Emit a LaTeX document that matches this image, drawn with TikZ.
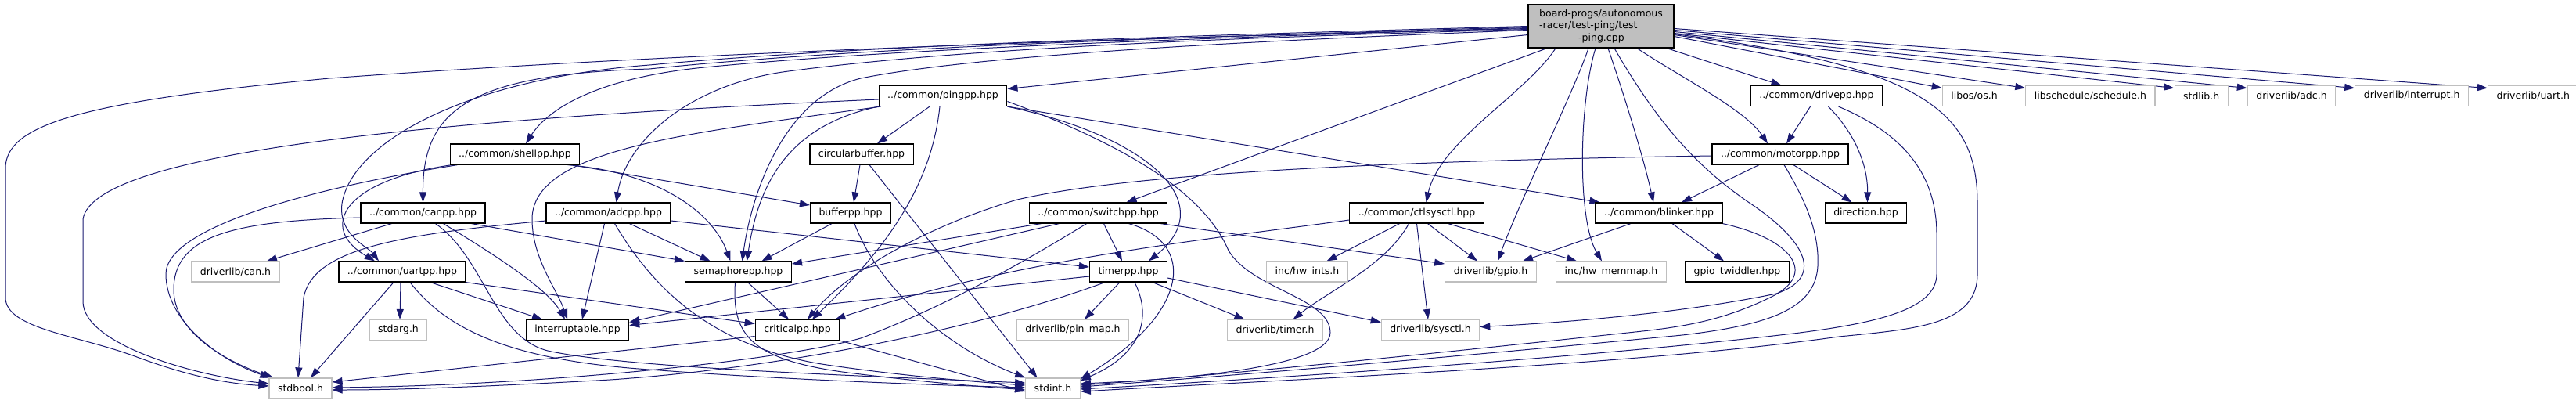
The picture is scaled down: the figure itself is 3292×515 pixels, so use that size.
\documentclass[tikz,border=0pt]{standalone}
\usepackage{fontspec}
\setmainfont{DejaVu Sans}
\usetikzlibrary{arrows.meta,positioning}
\definecolor{edgeblue}{HTML}{191970}
\definecolor{grey75}{HTML}{BFBFBF}
\pgfdeclarelayer{bg}
\pgfsetlayers{bg,main}
\tikzset{
    hdr/.style = {draw=black,line width=1.2pt,fill=white,inner xsep=11pt,inner ysep=2pt,minimum height=26pt,font=\fontsize{12.5}{15.5}\selectfont},
    sys/.style = {hdr,draw=grey75},
    srcfile/.style = {hdr,fill=grey75,align=left,minimum width=186pt,minimum height=55pt},
    dep/.style = {-{Triangle[length=13pt,width=9pt]},draw=edgeblue,line width=1pt},
}

\begin{document}
\begin{tikzpicture}[x=1pt,y=-1pt]
\useasboundingbox (0,0) rectangle (3292,515);

\node[srcfile] (root) at (2046,33.5) {board-progs/autonomous\\-racer/test-ping/test\\\hspace*{50pt}-ping.cpp};

\node[hdr] (pingpp) at (1205,122.5) {../common/pingpp.hpp};
\node[hdr] (drivepp) at (2321.5,122.5) {../common/drivepp.hpp};
\node[sys] (libos) at (2523,122.5) {libos/os.h};
\node[sys,right=24pt of libos] (libsched) {libschedule/schedule.h};
\node[sys,right=24pt of libsched] (stdlibh) {stdlib.h};
\node[sys,right=24pt of stdlibh] (adch) {driverlib/adc.h};
\node[sys,right=24pt of adch] (intrh) {driverlib/interrupt.h};
\node[sys,right=24pt of intrh] (uarth) {driverlib/uart.h};

\node[hdr] (shellpp) at (658,197) {../common/shellpp.hpp};
\node[hdr] (circbuf) at (1101,197) {circularbuffer.hpp};
\node[hdr] (motorpp) at (2275,197) {../common/motorpp.hpp};

\node[hdr] (canpp) at (540.5,272) {../common/canpp.hpp};
\node[hdr] (adcpp) at (777.5,272) {../common/adcpp.hpp};
\node[hdr] (bufferpp) at (1087,272) {bufferpp.hpp};
\node[hdr] (switchpp) at (1403.5,272) {../common/switchpp.hpp};
\node[hdr] (ctlsysctl) at (1810.5,272) {../common/ctlsysctl.hpp};
\node[hdr] (blinker) at (2120,272) {../common/blinker.hpp};
\node[hdr] (direction) at (2384.5,272) {direction.hpp};

\node[sys] (canh) at (301,347) {driverlib/can.h};
\node[hdr] (uartpp) at (514,347) {../common/uartpp.hpp};
\node[hdr] (semaphorepp) at (943.5,347) {semaphorepp.hpp};
\node[hdr] (timerpp) at (1442,347) {timerpp.hpp};
\node[sys] (hwints) at (1670.5,347) {inc/hw\_ints.h};
\node[sys] (gpioh) at (1905,347) {driverlib/gpio.h};
\node[sys] (hwmemmap) at (2059,347) {inc/hw\_memmap.h};
\node[hdr] (gpiotw) at (2220,347) {gpio\_twiddler.hpp};

\node[sys] (stdargh) at (509,421.5) {stdarg.h};
\node[hdr] (interruptable) at (738,421.5) {interruptable.hpp};
\node[hdr] (criticalpp) at (1019,421.5) {criticalpp.hpp};
\node[sys] (pinmap) at (1371,421.5) {driverlib/pin\_map.h};
\node[sys] (timerh) at (1629.5,421.5) {driverlib/timer.h};
\node[sys] (sysctlh) at (1828,421.5) {driverlib/sysctl.h};

\node[sys] (stdboolh) at (384,496) {stdbool.h};
\node[sys] (stdinth) at (1345.5,496) {stdint.h};

\begin{pgfonlayer}{bg}
% test-ping.cpp
\draw[dep] ([yshift=-11pt]root.west) -- ([yshift=9pt]pingpp.east);
\draw[dep] ([yshift=-3pt]root.west) .. controls (1500,47) and (900,65) .. (421,100) .. controls (100,130) and (7,160) .. (7,215) -- (7,380) .. controls (7,420) and (100,428) .. (175,456) .. controls (240,480) and (290,490) .. ([yshift=3pt]stdboolh.west);
\draw[dep] ([yshift=-2pt]root.west) .. controls (1500,50) and (1150,62) .. (900,86) .. controls (760,100) and (700,140) .. ([xshift=14pt]shellpp.north);
\draw[dep] ([yshift=-1pt]root.west) .. controls (1500,48) and (1100,60) .. (830,88) .. controls (600,95) and (540,140) .. (canpp.north);
\draw[dep] (root.west) .. controls (1500,46) and (1100,58) .. (830,83) .. controls (600,100) and (450,180) .. (437,260) .. controls (432,300) and (470,315) .. ([xshift=-30pt]uartpp.north);
\draw[dep] ([yshift=-4pt]root.west) .. controls (1500,50) and (1200,65) .. (1000,92) .. controls (880,110) and (800,180) .. ([xshift=10pt]adcpp.north);
\draw[dep] ([yshift=-5pt]root.west) .. controls (1600,52) and (1250,70) .. (1100,100) .. controls (1000,125) and (960,250) .. ([xshift=5pt]semaphorepp.north);
\draw[dep] ([xshift=-69pt]root.south) -- ([xshift=36pt]switchpp.north);
\draw[dep] ([xshift=-58pt]root.south) .. controls (1950,120) and (1840,180) .. ([xshift=12pt]ctlsysctl.north);
\draw[dep] ([xshift=-16pt]root.south) .. controls (2010,120) and (1945,250) .. ([xshift=9pt]gpioh.north);
\draw[dep] ([xshift=-7pt]root.south) .. controls (2018,130) and (2015,280) .. ([xshift=-12pt]hwmemmap.north);
\draw[dep] ([xshift=9pt]root.south) .. controls (2075,120) and (2100,200) .. ([xshift=-7pt]blinker.north);
\draw[dep] ([xshift=46pt]root.south) .. controls (2150,100) and (2230,140) .. ([xshift=-16pt]motorpp.north);
\draw[dep] ([xshift=84pt]root.south) -- ([xshift=-45pt]drivepp.north);
\draw[dep] ([xshift=17pt]root.south) .. controls (2120,160) and (2170,215) .. (2240,262) .. controls (2310,310) and (2330,355) .. (2270,375) .. controls (2150,400) and (2000,412) .. ([yshift=4pt]sysctlh.east);
\draw[dep] ([yshift=-10pt]root.east) .. controls (2470,85) and (2527,150) .. (2527,260) -- (2527,350) .. controls (2527,415) and (2450,420) .. (2350,430) .. controls (2100,465) and (1700,482) .. ([yshift=-4pt]stdinth.east);
\draw[dep] ([yshift=-13pt]root.east) -- ([yshift=10pt]libos.west);
\draw[dep] ([yshift=-11pt]root.east) -- ([yshift=10pt]libsched.west);
\draw[dep] ([yshift=-9pt]root.east) -- ([yshift=10pt]stdlibh.west);
\draw[dep] ([yshift=-7pt]root.east) -- ([yshift=10pt]adch.west);
\draw[dep] ([yshift=-5pt]root.east) -- ([yshift=10pt]intrh.west);
\draw[dep] ([yshift=-3pt]root.east) -- ([yshift=10pt]uarth.west);
% pingpp
\draw[dep] ([yshift=-4.5pt]pingpp.west) .. controls (600,150) and (120,190) .. (106,280) -- (106,385) .. controls (106,440) and (250,480) .. ([yshift=6pt]stdboolh.west);
\draw[dep] ([xshift=3pt]pingpp.south west) .. controls (880,170) and (680,190) .. (680,280) .. controls (680,330) and (712,370) .. ([xshift=-13pt]interruptable.north);
\draw[dep] ([xshift=-17pt]pingpp.south) -- ([xshift=20pt]circbuf.north);
\draw[dep] (pingpp.south west) .. controls (1010,160) and (970,230) .. ([xshift=11pt]semaphorepp.north);
\draw[dep] ([xshift=-4pt]pingpp.south) .. controls (1190,240) and (1130,320) .. ([xshift=19pt]criticalpp.north);
\draw[dep] ([yshift=-7pt]pingpp.east) .. controls (1450,190) and (1540,250) .. (1570,320) .. controls (1600,370) and (1700,380) .. (1700,425) .. controls (1700,470) and (1500,485) .. ([yshift=6pt]stdinth.east);
\draw[dep] (pingpp.south east) .. controls (1470,175) and (1560,260) .. ([xshift=26pt]timerpp.north);
\draw[dep] (pingpp.south east) -- ([xshift=6pt]blinker.north west);
% shellpp, circularbuffer, bufferpp
\draw[dep] ([xshift=10pt]shellpp.south west) .. controls (400,240) and (212,290) .. (212,350) .. controls (212,410) and (280,460) .. ([xshift=2pt]stdboolh.north west);
\draw[dep] ([xshift=3pt]shellpp.south west) .. controls (440,230) and (405,290) .. ([xshift=-35pt]uartpp.north);
\draw[dep] ([xshift=67pt]shellpp.south) .. controls (840,220) and (910,270) .. ([xshift=-10pt]semaphorepp.north);
\draw[dep] ([xshift=72pt]shellpp.south) -- ([yshift=10pt]bufferpp.west);
\draw[dep] ([xshift=-2pt]circbuf.south) -- ([xshift=4pt]bufferpp.north);
\draw[dep] ([xshift=10pt]circbuf.south) -- ([xshift=-20pt]stdinth.north);
\draw[dep] ([xshift=-24pt]bufferpp.south) -- ([xshift=30pt]semaphorepp.north);
\draw[dep] ([xshift=5pt]bufferpp.south) .. controls (1120,360) and (1200,440) .. (stdinth.north west);
% canpp
\draw[dep] ([yshift=-6pt]canpp.west) .. controls (300,282) and (222,300) .. (222,370) .. controls (222,425) and (290,462) .. ([xshift=6pt]stdboolh.north west);
\draw[dep] ([xshift=-40pt]canpp.south) -- ([xshift=40pt]canh.north);
\draw[dep] ([xshift=16pt]canpp.south) .. controls (620,330) and (630,430) .. (700,448) .. controls (800,470) and (1100,480) .. ([yshift=7pt]stdinth.west);
\draw[dep] ([xshift=26pt]canpp.south) .. controls (640,330) and (700,370) .. ([xshift=-16pt]interruptable.north);
\draw[dep] ([xshift=62pt]canpp.south) -- (semaphorepp.north west);
% adcpp
\draw[dep] ([yshift=-10pt]adcpp.west) .. controls (500,300) and (400,320) .. (388,380) -- ([xshift=-3pt]stdboolh.north);
\draw[dep] ([xshift=-5pt]adcpp.south) -- ([xshift=6pt]interruptable.north);
\draw[dep] ([xshift=8pt]adcpp.south) .. controls (830,360) and (900,440) .. (1050,465) .. controls (1150,480) and (1250,488) .. ([yshift=4pt]stdinth.west);
\draw[dep] ([xshift=27pt]adcpp.south) -- ([xshift=-36pt]semaphorepp.north);
\draw[dep] ([yshift=-10pt]adcpp.east) -- ([yshift=6pt]timerpp.west);
% uartpp
\draw[dep] ([xshift=-2pt]uartpp.south) -- ([xshift=2pt]stdargh.north);
\draw[dep] ([xshift=-11pt]uartpp.south) -- ([xshift=13pt]stdboolh.north);
\draw[dep] ([xshift=36pt]uartpp.south) -- ([xshift=-45pt]interruptable.north);
\draw[dep] (uartpp.south east) -- ([yshift=8pt]criticalpp.west);
\draw[dep] ([xshift=10pt]uartpp.south) .. controls (570,420) and (650,460) .. (830,472) .. controls (1000,485) and (1200,492) .. ([yshift=1pt]stdinth.west);
% semaphorepp, criticalpp
\draw[dep] ([xshift=12pt]semaphorepp.south) -- ([xshift=-11pt]criticalpp.north);
\draw[dep] ([xshift=-4pt]semaphorepp.south) .. controls (935,430) and (960,462) .. (1100,478) .. controls (1200,490) and (1260,494) .. ([yshift=-2pt]stdinth.west);
\draw[dep] ([yshift=-8pt]criticalpp.west) -- ([yshift=8pt]stdboolh.east);
\draw[dep] (criticalpp.south east) -- ([yshift=-4pt]stdinth.west);
% switchpp
\draw[dep] ([xshift=16pt]switchpp.south west) -- ([yshift=10pt]semaphorepp.east);
\draw[dep] ([xshift=-50pt]switchpp.south) -- ([yshift=10pt]interruptable.east);
\draw[dep] ([xshift=-15pt]switchpp.south) .. controls (1300,340) and (1200,395) .. (1100,432) .. controls (1000,460) and (700,492) .. ([yshift=1pt]stdboolh.east);
\draw[dep] ([xshift=7pt]switchpp.south) -- ([xshift=-8pt]timerpp.north);
\draw[dep] ([xshift=39pt]switchpp.south) .. controls (1530,310) and (1520,400) .. ([yshift=12pt]stdinth.east);
\draw[dep] ([xshift=-9pt]switchpp.south east) -- ([yshift=10pt]gpioh.west);
% timerpp
\draw[dep] ([yshift=-6pt]timerpp.west) -- ([yshift=6pt]interruptable.east);
\draw[dep] ([xshift=-30pt]timerpp.south) .. controls (1250,420) and (1000,470) .. (780,485) .. controls (600,495) and (500,498) .. ([yshift=-2pt]stdboolh.east);
\draw[dep] ([xshift=-11pt]timerpp.south) -- ([xshift=15pt]pinmap.north);
\draw[dep] ([xshift=8pt]timerpp.south) .. controls (1470,400) and (1465,450) .. ([yshift=10pt]stdinth.east);
\draw[dep] ([xshift=31pt]timerpp.south) -- ([xshift=-39pt]timerh.north);
\draw[dep] ([yshift=-8pt]timerpp.east) -- ([yshift=10pt]sysctlh.west);
% ctlsysctl
\draw[dep] ([yshift=-9pt]ctlsysctl.west) .. controls (1550,305) and (1300,330) .. ([xshift=-6pt]criticalpp.north east);
\draw[dep] ([xshift=-22pt]ctlsysctl.south) -- ([xshift=25pt]hwints.north);
\draw[dep] ([xshift=-10pt]ctlsysctl.south) .. controls (1770,340) and (1700,370) .. ([xshift=23pt]timerh.north);
\draw[dep] (ctlsysctl.south) -- ([xshift=-3pt]sysctlh.north);
\draw[dep] ([xshift=14pt]ctlsysctl.south) -- ([xshift=-17pt]gpioh.north);
\draw[dep] ([xshift=40pt]ctlsysctl.south) -- ([xshift=-44pt]hwmemmap.north);
% blinker
\draw[dep] ([xshift=-36pt]blinker.south) -- ([xshift=41pt]gpioh.north);
\draw[dep] ([xshift=17pt]blinker.south) -- ([xshift=-17pt]gpiotw.north);
\draw[dep] (blinker.south east) .. controls (2290,305) and (2325,350) .. (2262,380) .. controls (2200,410) and (2150,418) .. (2080,425) .. controls (1800,455) and (1550,480) .. ([yshift=4pt]stdinth.east);
% motorpp, drivepp
\draw[dep] ([yshift=-2pt]motorpp.west) .. controls (1800,205) and (1450,220) .. (1300,255) .. controls (1180,290) and (1080,350) .. ([xshift=13pt]criticalpp.north);
\draw[dep] ([xshift=-27pt]motorpp.south) -- ([xshift=29pt]blinker.north);
\draw[dep] ([xshift=17pt]motorpp.south) -- ([xshift=-18pt]direction.north);
\draw[dep] ([xshift=5pt]motorpp.south) .. controls (2310,260) and (2325,300) .. (2323,340) .. controls (2320,395) and (2260,415) .. (2150,428) .. controls (1900,452) and (1600,478) .. ([yshift=2pt]stdinth.east);
\draw[dep] ([xshift=-8pt]drivepp.south) -- ([xshift=8pt]motorpp.north);
\draw[dep] ([xshift=15pt]drivepp.south) .. controls (2370,170) and (2387,210) .. ([xshift=2pt]direction.north);
\draw[dep] ([xshift=28pt]drivepp.south) .. controls (2430,170) and (2475,220) .. (2475,300) -- (2475,350) .. controls (2475,395) and (2400,412) .. (2300,425) .. controls (2050,455) and (1650,482) .. ([yshift=-1pt]stdinth.east);
\end{pgfonlayer}
\end{tikzpicture}
\end{document}
